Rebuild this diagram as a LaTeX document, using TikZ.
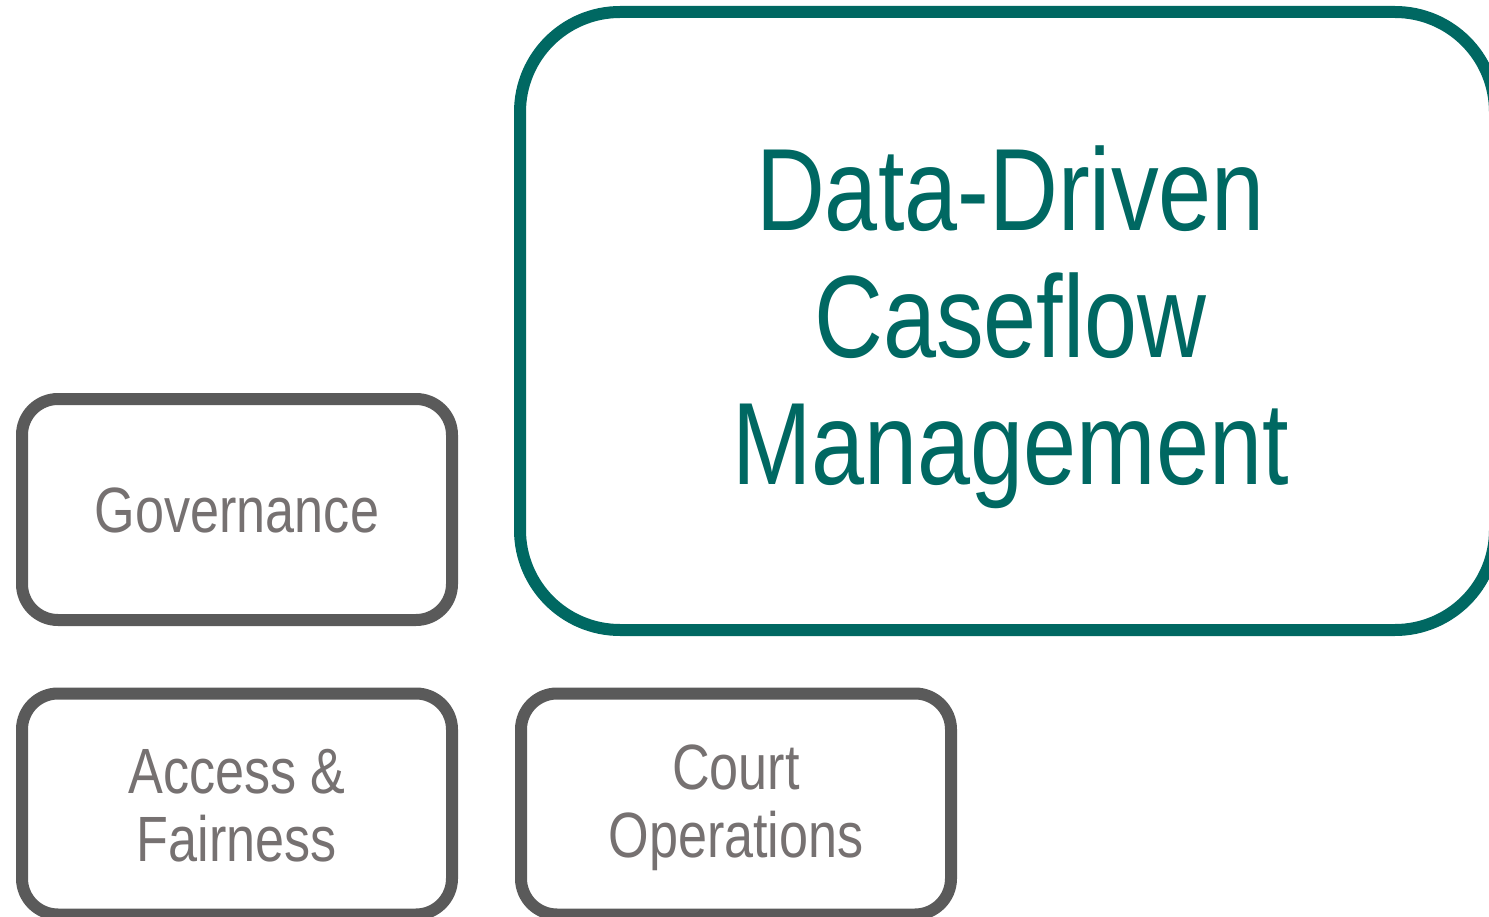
\documentclass[tikz,border=0pt]{standalone}
\usepackage{fontspec}
\setmainfont[FakeStretch=0.815]{Liberation Sans}
\definecolor{teal1}{RGB}{0,104,98}
\definecolor{boxgray}{RGB}{90,90,90}
\definecolor{txtgray}{RGB}{118,113,113}
\begin{document}
\begin{tikzpicture}[x=1pt,y=1pt,
  smallbox/.style={draw=boxgray, line width=12pt, rounded corners=36pt, rectangle,
    inner sep=0pt, minimum width=430pt, minimum height=221pt},
  smalltext/.style={align=center, inner sep=0pt, text=txtgray, font=\fontsize{64}{68}\selectfont},
  bigbox/.style={draw=teal1, line width=12pt, rounded corners=100pt, rectangle,
    inner sep=0pt, minimum width=975pt, minimum height=618pt},
  bigtext/.style={align=center, inner sep=0pt, text=teal1, font=\fontsize{117}{127}\selectfont}]
\useasboundingbox (0,0) rectangle (1489,-917);
\node[bigbox] (dd) at (1007.5,-321) {};
\node[bigtext] (ddt) at ([xshift=3pt,yshift=-6pt]dd.center) {Data-Driven\\Caseflow\\Management};
\node[smallbox] (gov) at (237,-509.5) {};
\node[smalltext] (govt) at ([yshift=-1pt]gov.center) {Governance};
\node[smallbox] (acc) at (237,-804) {};
\node[smalltext] (acct) at ([yshift=-2pt]acc.center) {Access \&\\Fairness};
\node[smallbox] (court) at (736,-804) {};
\node[smalltext] (courtt) at ([yshift=-4pt]court.center) {Court\\Operations};
\end{tikzpicture}
\end{document}
